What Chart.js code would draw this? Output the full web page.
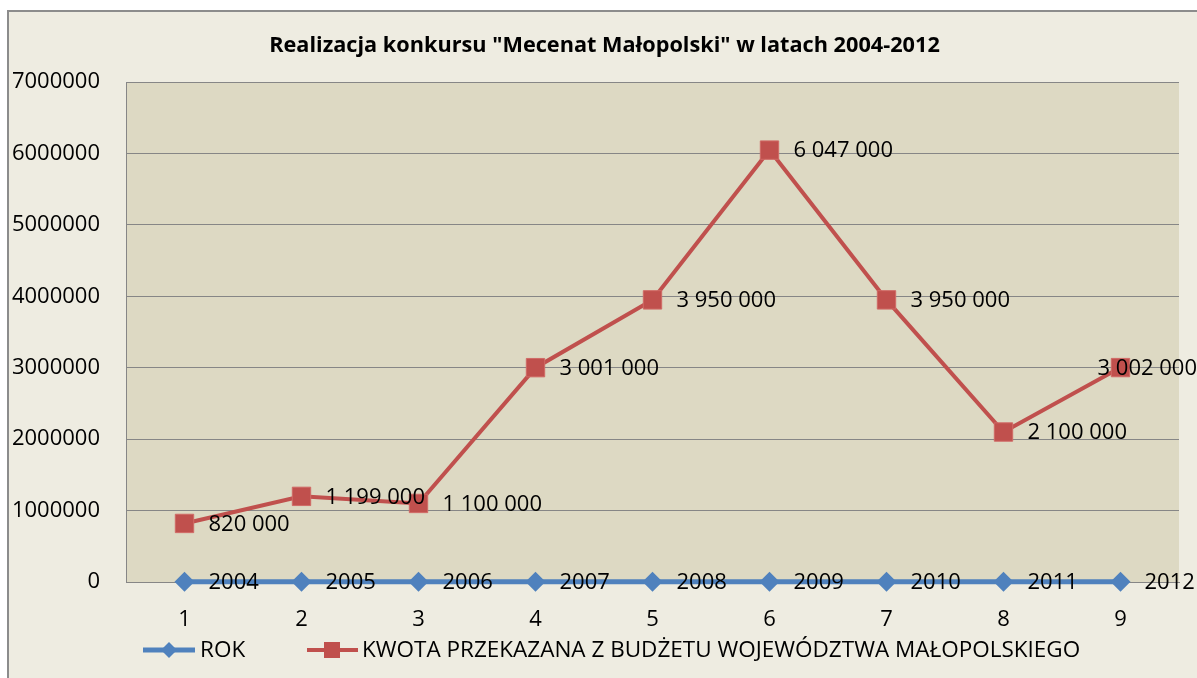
<!DOCTYPE html>
<html><head><meta charset="utf-8">
<script src="https://cdn.jsdelivr.net/npm/chart.js@4/dist/chart.umd.min.js"></script>
<style>html,body{margin:0;padding:0;background:#fff;overflow:hidden}#wrap{position:absolute;left:0;top:0;width:1197px;height:678px}</style>
</head><body><div id="wrap"><canvas id="c" width="1197" height="678"></canvas></div>
<script>
const categories = ['1','2','3','4','5','6','7','8','9'];
const yearValues = [2004,2005,2006,2007,2008,2009,2010,2011,2012];
const amountValues = [820000,1199000,1100000,3001000,3950000,6047000,3950000,2100000,3002000];
const yTickValues = [0,1000000,2000000,3000000,4000000,5000000,6000000,7000000];
const titleText = 'Realizacja konkursu "Mecenat Małopolski" w latach 2004-2012';
const seriesNames = ['ROK','KWOTA PRZEKAZANA Z BUDŻETU WOJEWÓDZTWA MAŁOPOLSKIEGO'];

const FONT = '"Open Sans", sans-serif';
const BLUE = '#4F81BD', RED = '#C0504D', GRID = '#868686';

function fmt(v, dsIndex){
  if (dsIndex === 0) return String(v);
  return String(v).replace(/\B(?=(\d{3})+(?!\d))/g, ' ');
}

const bgPlugin = {
  id: 'bg',
  afterLayout(chart){
    if (chart.titleBlock) { chart.titleBlock.left = 30; }
  },
  beforeDraw(chart){
    const ctx = chart.ctx, W = chart.width, H = chart.height;
    ctx.save();
    ctx.fillStyle = '#fff'; ctx.fillRect(0,0,W,H);
    ctx.fillStyle = '#EEECE1'; ctx.fillRect(7,10,W-7,H-10);
    ctx.strokeStyle = '#8C8C8C'; ctx.lineWidth = 2;
    ctx.beginPath(); ctx.moveTo(8,H); ctx.lineTo(8,11); ctx.lineTo(W,11); ctx.stroke();
    const a = chart.chartArea;
    ctx.fillStyle = '#DDD9C3'; ctx.fillRect(a.left, a.top, a.right-a.left, a.bottom-a.top);
    ctx.restore();
  }
};

const labelPlugin = {
  id: 'pointLabels',
  afterDatasetsDraw(chart){
    const ctx = chart.ctx;
    ctx.save();
    ctx.font = '22px ' + FONT;
    ctx.fillStyle = '#000';
    ctx.textBaseline = 'middle';
    ctx.textAlign = 'left';
    chart.data.datasets.forEach((ds, di) => {
      const meta = chart.getDatasetMeta(di);
      meta.data.forEach((el, i) => {
        const t = fmt(ds.data[i], di);
        const w = ctx.measureText(t).width;
        let x = el.x + 24;
        if (x + w > chart.width) x = chart.width - w;
        ctx.fillText(t, x, el.y + 1);
      });
    });
    ctx.restore();
  }
};

const legendPlugin = {
  id: 'customLegend',
  afterDraw(chart){
    const ctx = chart.ctx, y = 650;
    ctx.save();
    ctx.strokeStyle = BLUE; ctx.lineWidth = 5;
    ctx.beginPath(); ctx.moveTo(143,y); ctx.lineTo(195,y); ctx.stroke();
    ctx.fillStyle = BLUE;
    ctx.beginPath(); ctx.moveTo(169-8,y); ctx.lineTo(169,y-8); ctx.lineTo(169+8,y); ctx.lineTo(169,y+8); ctx.closePath(); ctx.fill();
    ctx.strokeStyle = RED; ctx.lineWidth = 4;
    ctx.beginPath(); ctx.moveTo(307,y); ctx.lineTo(358,y); ctx.stroke();
    ctx.fillStyle = RED; ctx.fillRect(332-8, y-8, 16, 16);
    ctx.fillStyle = '#000'; ctx.font = '22.5px ' + FONT; ctx.textBaseline = 'middle'; ctx.textAlign = 'left';
    ctx.fillText(seriesNames[0], 200, y+1);
    ctx.fillText(seriesNames[1], 362, y+1);
    ctx.restore();
  }
};

new Chart(document.getElementById('c'), {
  type: 'line',
  data: {
    labels: categories,
    datasets: [
      { label: seriesNames[0], data: yearValues, borderColor: BLUE, backgroundColor: BLUE, borderWidth: 5, clip: false,
        pointStyle: 'rectRot', pointRadius: 10, pointBorderWidth: 0, pointBackgroundColor: BLUE, tension: 0 },
      { label: seriesNames[1], data: amountValues, borderColor: RED, backgroundColor: RED, borderWidth: 4, clip: false,
        pointStyle: 'rect', pointRadius: 13, pointBorderWidth: 1, pointBorderColor: '#D06A66', pointBackgroundColor: RED, tension: 0 }
    ]
  },
  options: {
    responsive: false,
    animation: false,
    layout: { padding: { left: 0, right: 18, top: 0, bottom: 0 } },
    plugins: {
      legend: { display: false },
      tooltip: { enabled: false },
      title: { display: true, text: titleText, color: '#000', font: { family: FONT, size: 21.7, weight: 'bold' }, padding: { top: 33, bottom: 23 } }
    },
    scales: {
      x: {
        type: 'category', offset: true,
        grid: { display: false },
        border: { display: true, color: GRID, width: 1 },
        ticks: { color: '#000', font: { family: FONT, size: 22 }, padding: 17 },
        afterFit(s){ s.height = 96; }
      },
      y: {
        min: 0, max: 7000000,
        afterBuildTicks(s){ s.ticks = yTickValues.map(v => ({ value: v })); },
        grid: { color: GRID, lineWidth: 1, drawTicks: false },
        border: { display: true, color: GRID, width: 1 },
        ticks: { color: '#000', font: { family: FONT, size: 22 }, padding: 26, callback: v => String(v) },
        afterFit(s){ s.width = 126; }
      }
    }
  },
  plugins: [bgPlugin, labelPlugin, legendPlugin]
});
</script></body></html>
